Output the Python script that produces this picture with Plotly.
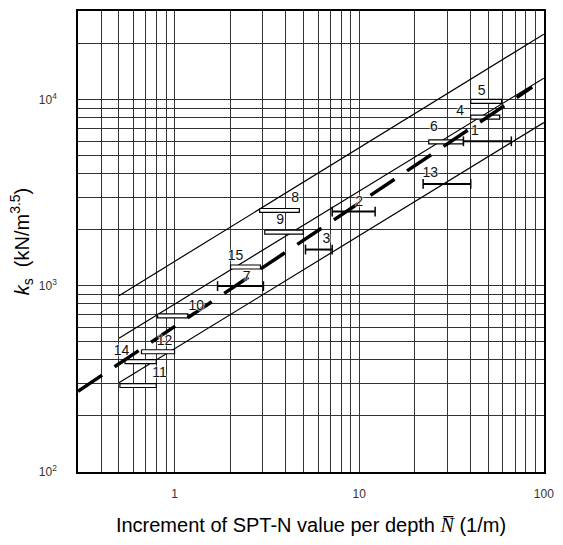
import numpy as np
import plotly.graph_objects as go

# ---- data ----
# three parallel reference lines (solid)
line_x = [0.5, 100]
upper_y = [885, 22500]
middle_y = [523, 13060]
lower_y = [301, 7540]
# fitted (dashed) line
dash_x = [0.3, 86.5]
dash_y = [271, 11700]

# ranges drawn as thin boxes
box_ids = ["8", "9", "15", "5", "4", "6", "10", "12", "14", "11"]
box_x0 = [2.89, 3.08, 2.01, 40.2, 40.2, 23.8, 0.81, 0.662, 0.539, 0.506]
box_x1 = [4.74, 4.98, 2.92, 59.0, 57.7, 36.7, 1.18, 1.0, 0.796, 0.796]
box_y = [2540, 1945, 1262, 9800, 8070, 5940, 689, 442, 391, 291]

# ranges drawn as capped lines
cap_ids = ["7", "2", "3", "1", "13"]
cap_x0 = [1.71, 7.14, 5.12, 36.7, 22.2]
cap_x1 = [3.03, 12.2, 7.14, 66.7, 40.2]
cap_y = [996, 2506, 1566, 5980, 3530]

# case number labels
label_text = ["8", "9", "15", "7", "2", "3", "5", "4", "6", "1", "13", "10", "12", "14", "11"]
label_x = [4.50, 3.73, 2.14, 2.46, 10.0, 6.64, 46.0, 35.2, 25.4, 42.4, 24.3, 1.31, 0.883, 0.516, 0.830]
label_y = [2960, 2240, 1442, 1104, 2810, 1770, 11090, 8670, 7060, 6780, 4020, 778, 501, 442, 336]

# axis ticks
x_tick_vals = [1, 10, 100]
x_tick_text = ["1", "10", "100"]
y_tick_vals = [100, 1000, 10000]
y_tick_text = ["10<sup>2</sup>", "10<sup>3</sup>", "10<sup>4</sup>"]

# ---- figure ----
fig = go.Figure()

for ys in (upper_y, middle_y, lower_y):
    fig.add_trace(go.Scatter(x=line_x, y=ys, mode="lines",
                             line=dict(color="black", width=1.2), hoverinfo="skip"))

# all box ranges in one trace (polygons separated by None)
f = 10 ** (2.0 / 187)  # half height of a box, ~2 px
bx, by = [], []
for x0, x1, y in zip(box_x0, box_x1, box_y):
    bx += [x0, x1, x1, x0, x0, None]
    by += [y * f, y * f, y / f, y / f, y * f, None]
fig.add_trace(go.Scatter(x=bx, y=by, mode="lines", fill="toself", fillcolor="white",
                         line=dict(color="black", width=1.2), hoverinfo="skip"))

# all capped ranges in one trace
cx, cy = [], []
for x0, x1, y in zip(cap_x0, cap_x1, cap_y):
    cx += [x0, x1, None]
    cy += [y, y, None]
fig.add_trace(go.Scatter(x=cx, y=cy, mode="lines+markers",
                         line=dict(color="black", width=2),
                         marker=dict(symbol="line-ns", size=7, color="black",
                                     line=dict(color="black", width=1.5)),
                         hoverinfo="skip"))

fig.add_trace(go.Scatter(x=dash_x, y=dash_y, mode="lines",
                         line=dict(color="black", width=3.5, dash="29px,15px"), hoverinfo="skip"))

fig.add_trace(go.Scatter(x=label_x, y=label_y, mode="text", text=label_text,
                         textposition="middle center",
                         textfont=dict(family="Liberation Sans", size=14, color="#111",
                                       shadow="0 0 2px white, 0 0 2px white, 0 0 2px white"),
                         hoverinfo="skip"))

# minor grid values: 2..9 per decade
x_minor = [m * 10.0 ** e for e in (-1, 0, 1) for m in range(2, 10) if 0.3 < m * 10.0 ** e < 100]
y_minor = [m * 10.0 ** e for e in (2, 3, 4) for m in range(2, 10) if 100 < m * 10.0 ** e < 30000]

fig.update_layout(
    width=563, height=545,
    margin=dict(l=78, r=15, t=9, b=73),
    paper_bgcolor="white", plot_bgcolor="white",
    showlegend=False,
    font=dict(family="Liberation Sans", color="black"),
)
fig.update_xaxes(
    type="log", range=[np.log10(0.3), 2.001],
    tickmode="array", tickvals=x_tick_vals, ticktext=x_tick_text,
    showgrid=True, gridcolor="#333", gridwidth=1,
    minor=dict(tickmode="array", tickvals=x_minor, showgrid=True,
               gridcolor="#333", gridwidth=1, ticks=""),
    showline=True, mirror=True, linecolor="black", linewidth=1.5,
    ticks="", ticklabelstandoff=10,
    tickfont=dict(size=12, color="#333"),
    zeroline=False,
    title=dict(text="Increment of SPT-N value per depth "
                    "<span style=\"font-family:Liberation Serif\"><i>N\u0305</i></span> (1/m)",
               font=dict(size=20, color="black"), standoff=18),
)
fig.update_yaxes(
    type="log", range=[1.999, np.log10(30000)],
    tickmode="array", tickvals=y_tick_vals, ticktext=y_tick_text,
    showgrid=True, gridcolor="#333", gridwidth=1,
    minor=dict(tickmode="array", tickvals=y_minor, showgrid=True,
               gridcolor="#333", gridwidth=1, ticks=""),
    showline=True, mirror=True, linecolor="black", linewidth=1.5,
    ticks="", ticklabelstandoff=17,
    tickfont=dict(size=12, color="#333"),
    zeroline=False,
    title=dict(text="<i>k</i><sub>s</sub>  (kN/m<sup>3.5</sup>)",
               font=dict(size=20, color="black"), standoff=4),
)

fig.write_html("out.html")
